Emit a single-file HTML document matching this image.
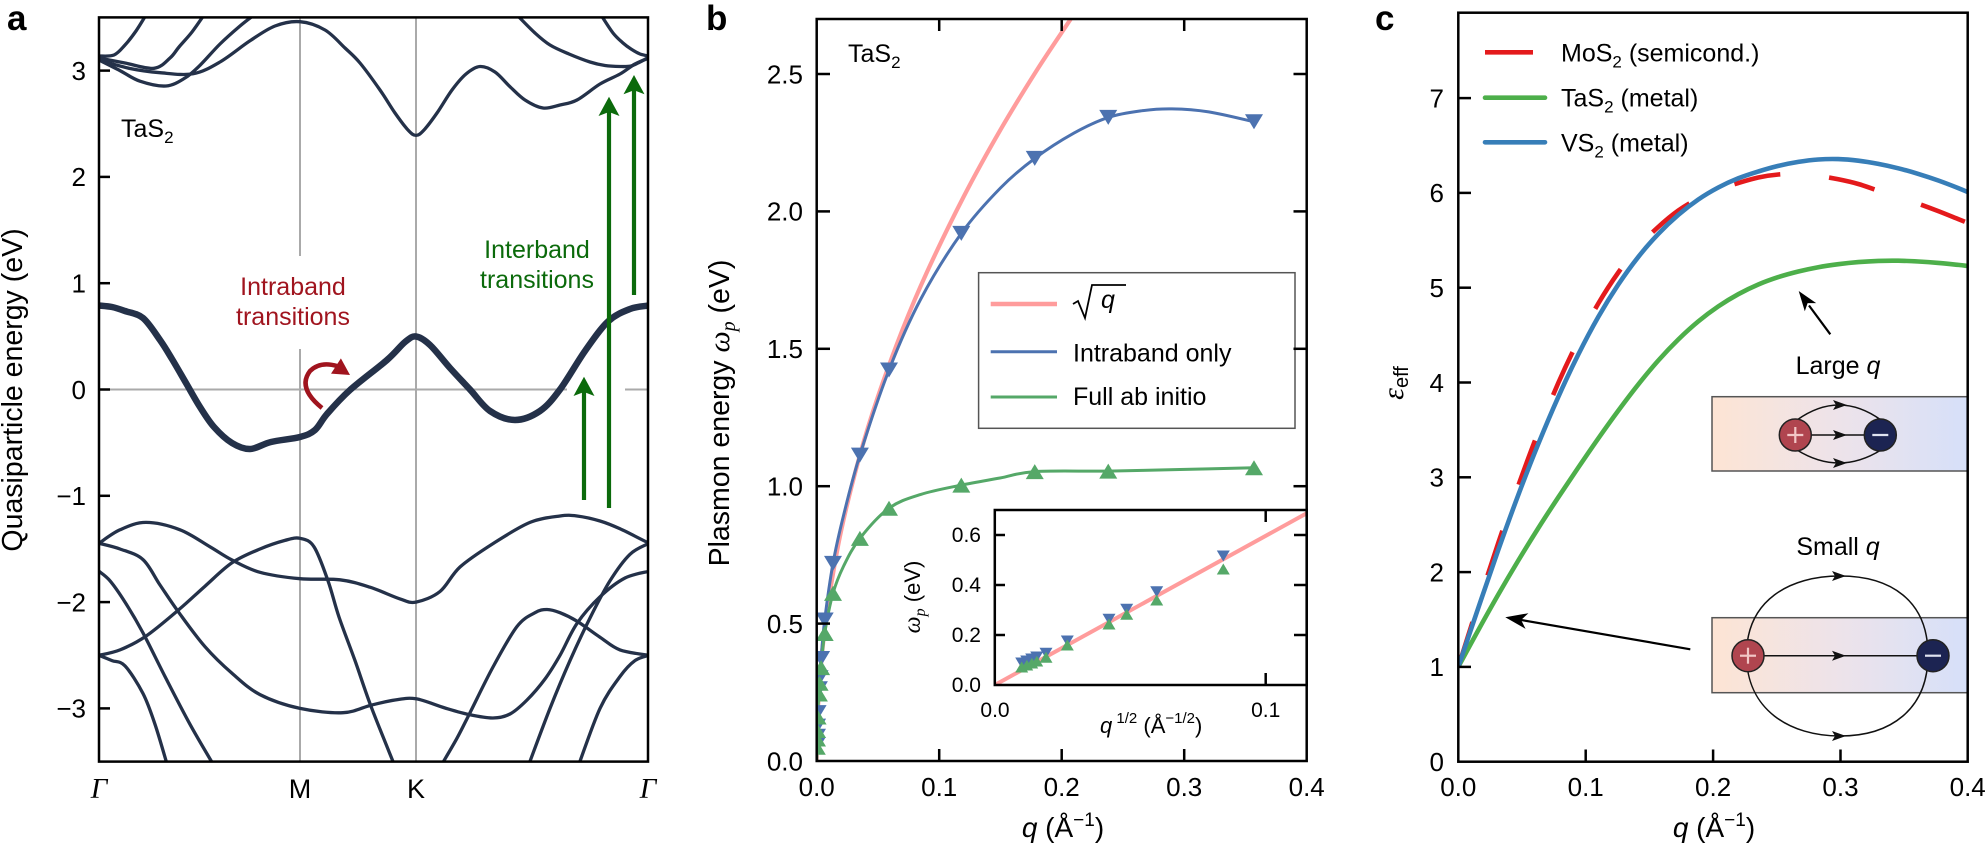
<!DOCTYPE html>
<html><head><meta charset="utf-8">
<style>
html,body{margin:0;padding:0;background:#fff;}
svg{display:block;}
text{font-family:"Liberation Sans",Arial,sans-serif;}
.ser{font-family:"Liberation Serif","DejaVu Serif",serif;font-style:italic;}
</style></head>
<body>
<svg width="1987" height="849" viewBox="0 0 1987 849" xmlns="http://www.w3.org/2000/svg">
<defs>
<clipPath id="cA"><rect x="99" y="17.4" width="549" height="744.2"/></clipPath>
<clipPath id="cB"><rect x="816.7" y="19" width="490" height="742"/></clipPath>
<clipPath id="cBi"><rect x="994.8" y="510" width="311.9" height="175"/></clipPath>
<clipPath id="cC"><rect x="1458.3" y="12.7" width="509.4" height="749"/></clipPath>
<linearGradient id="gr" x1="0" x2="1" y1="0" y2="0">
<stop offset="0" stop-color="#fde4d4"/><stop offset="0.5" stop-color="#ede3ea"/><stop offset="1" stop-color="#d6e0f9"/>
</linearGradient>
<path id="dn" d="M-9,-7.5 L9,-7.5 L0,7.5 Z" fill="#4c72b0"/>
<path id="up" d="M-9,7.5 L9,7.5 L0,-7.5 Z" fill="#55a868"/>
<path id="dns" d="M-6.5,-5.5 L6.5,-5.5 L0,5.5 Z" fill="#4c72b0"/>
<path id="ups" d="M-6.5,5.5 L6.5,5.5 L0,-5.5 Z" fill="#55a868"/>
</defs>
<rect width="1987" height="849" fill="#fff"/>

<!-- ================= PANEL A ================= -->
<text x="7" y="30" font-size="35" font-weight="bold">a</text>
<g stroke="#aaaaaa" stroke-width="2">
<line x1="300" y1="17.4" x2="300" y2="256"/>
<line x1="300" y1="349" x2="300" y2="761.6"/>
<line x1="416" y1="17.4" x2="416" y2="761.6"/>
<line x1="99" y1="389.5" x2="567" y2="389.5"/>
<line x1="625" y1="389.5" x2="648" y2="389.5"/>
</g>
<g clip-path="url(#cA)" fill="none" stroke="#243149" stroke-width="3.3" stroke-linejoin="round" stroke-linecap="round">
<polyline class="sm" points="99,60 130,68.5 160,72.7 193,73.8 220,62 250,40.8 275,26 300,21.7 325,30 345,48 360,63 380,90 395,113 408,130 416,135.4 424,130 437,113 452,90 466,74 480,66.5 495,72 510,86.7 525,100 543,108 560,105 577,100 600,84 620,74 635,64 649,58"/>
<polyline class="sm" points="99,60 120,70.6 140,81.2 166,86 185,78 200,65.3 220,44 240,26 254,15"/>
<polyline class="sm" points="99,58 125,63 154,68.3 170,58 179,47 192,32 204,15"/>
<polyline class="sm" points="99,56 114,55 125,45 136,31 146,15"/>
<polyline class="sm" points="517,15 535,33 550,45 569,54 590,62 605,65.5 620,66.5 631,66 640,62 649,57"/>
<polyline class="sm" points="601,15 613,33 623,43 631,49 640,54 649,56"/>
<polyline class="sm" points="99,543.3 120,529.8 146,522.4 180,529.8 210,546.8 232,560 260,572.3 300,578.7 340,579.8 370,587.2 400,598.9 416,602.1 440,591.5 460,567 493,543.6 530,522.4 560,516 577,516 600,521 620,528.8 649,543.3"/>
<polyline class="sm" points="99,543.3 120,549 143,559.6 160,585 179,612.7 205,646.7 232,673.3 260,694.6 300,708.4 343,712.7 371,705.2 395,700 416,698.8 445,708 470,714.8 493,718 510,714 527,700 545,679 560,655.3 577,623.4 600,596.8 625,578 649,571.3"/>
<polyline class="sm" points="99,571.3 110,580.8 125,602.1 143,632.9 165,676.5 190,724.3 213,764"/>
<polyline class="sm" points="99,655.3 120,649.9 146,636.1 179,609.5 205,586.2 232,562.8 260,549 285,540.4 300,538.3 314,546.8 328,580.8 339,617 355,660.6 371,706.3 394,764"/>
<polyline class="sm" points="99,655.3 112,660.6 125,665.9 143,693.5 155,724.3 167,764"/>
<polyline class="sm" points="442,764 457,738.2 470,712.7 493,667 517,626.5 535,612.7 547,609.5 560,612.7 577,621.2 600,637.2 620,649.9 649,655.3"/>
<polyline class="sm" points="529,764 550,708.4 570,660.6 590,618 610,580.8 630,554.3 649,543.3"/>
<polyline class="sm" points="579,764 600,708.4 620,676.5 635,660.6 649,655.3"/>
<polyline class="sm" stroke-width="6.5" points="99,305.5 112,307 125,311 143,318 160,340 172,359 186,383 200,407 214,427 232,443 250,449 271,442 300,437 315,430 327,414 350,390 387,360 405,342 416,336.5 430,345 450,368 470,389.5 490,411 515,420 540,411 560,389.5 585,351 608,321.5 630,309 649,305.5"/>
</g>
<rect x="99" y="17.4" width="549" height="744.2" fill="none" stroke="#000" stroke-width="2.5"/>
<g stroke="#000" stroke-width="2.5">
<line x1="99" y1="70.6" x2="110" y2="70.6"/>
<line x1="99" y1="176.9" x2="110" y2="176.9"/>
<line x1="99" y1="283.2" x2="110" y2="283.2"/>
<line x1="99" y1="389.5" x2="110" y2="389.5"/>
<line x1="99" y1="495.8" x2="110" y2="495.8"/>
<line x1="99" y1="602.1" x2="110" y2="602.1"/>
<line x1="99" y1="708.4" x2="110" y2="708.4"/>
</g>
<g font-size="26" text-anchor="end">
<text x="86" y="79.9">3</text>
<text x="86" y="186.2">2</text>
<text x="86" y="292.5">1</text>
<text x="86" y="398.8">0</text>
<text x="86" y="505.1">−1</text>
<text x="86" y="611.4">−2</text>
<text x="86" y="717.7">−3</text>
</g>
<g font-size="27" text-anchor="middle">
<text x="99" y="798" class="ser" font-size="29">Γ</text>
<text x="300" y="798">M</text>
<text x="416" y="798">K</text>
<text x="648" y="798" class="ser" font-size="29">Γ</text>
</g>
<text transform="translate(22,390) rotate(-90)" text-anchor="middle" font-size="28.5">Quasiparticle energy (eV)</text>
<text x="121" y="137" font-size="25">TaS<tspan font-size="17" dy="6">2</tspan></text>
<g font-size="25" text-anchor="middle" fill="#a0141e">
<text x="293" y="295" style="fill:#a0141e">Intraband</text>
<text x="293" y="325" style="fill:#a0141e">transitions</text>
</g>
<path d="M322,408 Q297,388 310,371 Q320,361 337,366" fill="none" stroke="#a0141e" stroke-width="4.5"/>
<polygon points="350,375 331,373.6 336,366 340.9,358.4" fill="#a0141e"/>
<g font-size="25" text-anchor="middle" fill="#0b6a0b">
<text x="537" y="258" style="fill:#0b6a0b">Interband</text>
<text x="537" y="288" style="fill:#0b6a0b">transitions</text>
</g>
<g stroke="#0b6a0b" stroke-width="4.2">
<line x1="584" y1="500" x2="584" y2="390"/>
<line x1="609" y1="508" x2="609" y2="110"/>
<line x1="634" y1="295" x2="634" y2="88"/>
</g>
<g fill="#0b6a0b">
<polygon points="584,376.7 573.5,396 584,392 594.5,396"/>
<polygon points="609,96.7 598.5,116 609,112 619.5,116"/>
<polygon points="634,75 623.5,94.3 634,90.3 644.5,94.3"/>
</g>

<!-- ================= PANEL B ================= -->
<text x="706" y="30" font-size="35" font-weight="bold">b</text>
<g clip-path="url(#cB)" fill="none" stroke-linejoin="round">
<polyline class="sm" stroke="#ff9c9c" stroke-width="4.2" points="816.7,761 817.3,724.6 819.2,688.2 822.8,645.9 829,598 841.2,530.4 859.6,456.2 877.95,396.6 902.45,329.8 926.95,272.1 963.7,196.6 1000.45,129.8 1037.2,69.6 1070.3,19.6 1076,10"/>
<polyline class="sm" stroke="#4c72b0" stroke-width="3" points="816.7,761 816.9,740 817.1,726.1 817.6,712.6 818.9,688.7 821.1,658.5 824.7,620 833,563.4 843.65,515 859.9,455.1 889,370 920.8,299 961.3,233.4 1000.45,188 1034.75,158.4 1073.95,133.1 1108.25,117.4 1141.3,110.8 1172,108.9 1208.7,111.9 1254,121.8"/>
<polyline class="sm" stroke="#55a868" stroke-width="3" points="816.7,761 816.9,742 817.1,730.5 817.6,717 818.9,694 821.1,667.6 824.7,633.5 833,593.4 843.65,566 859.9,538.4 889,508.2 920.8,494.4 961.3,485.1 1000,478 1034.75,471.6 1108.25,471.1 1180,469.5 1254,467.8"/>
<g>
<use href="#dn" transform="translate(816.8,744.5)"/>
<use href="#dn" transform="translate(817,736.3)"/>
<use href="#dn" transform="translate(817.1,726.1)"/>
<use href="#dn" transform="translate(817.6,712.6)"/>
<use href="#dn" transform="translate(818.9,688.7)"/>
<use href="#dn" transform="translate(819.6,677.7)"/>
<use href="#dn" transform="translate(821.1,658.5)"/>
<use href="#dn" transform="translate(824.7,620)"/>
<use href="#dn" transform="translate(833,563.4)"/>
<use href="#dn" transform="translate(859.9,455.1)"/>
<use href="#dn" transform="translate(889,370)"/>
<use href="#dn" transform="translate(961.3,233.4)"/>
<use href="#dn" transform="translate(1034.75,158.4)"/>
<use href="#dn" transform="translate(1108.25,117.4)"/>
<use href="#dn" transform="translate(1254,121.8)"/>
<use href="#up" transform="translate(816.8,747.3)"/>
<use href="#up" transform="translate(817,739)"/>
<use href="#up" transform="translate(817.1,730.5)"/>
<use href="#up" transform="translate(817.6,717)"/>
<use href="#up" transform="translate(818.9,694)"/>
<use href="#up" transform="translate(819.6,683.2)"/>
<use href="#up" transform="translate(821.1,667.6)"/>
<use href="#up" transform="translate(824.7,633.5)"/>
<use href="#up" transform="translate(833,593.4)"/>
<use href="#up" transform="translate(859.9,538.4)"/>
<use href="#up" transform="translate(889,508.2)"/>
<use href="#up" transform="translate(961.3,485.1)"/>
<use href="#up" transform="translate(1034.75,471.6)"/>
<use href="#up" transform="translate(1108.25,471.1)"/>
<use href="#up" transform="translate(1254,467.8)"/>
</g>
</g>
<rect x="978.6" y="272.7" width="316.4" height="155.6" fill="#fff" stroke="#555" stroke-width="1.5"/>
<line x1="990.7" y1="304" x2="1057" y2="304" stroke="#ff9c9c" stroke-width="4.5"/>
<line x1="990.7" y1="351.7" x2="1057" y2="351.7" stroke="#4c72b0" stroke-width="3"/>
<line x1="990.7" y1="397" x2="1057" y2="397" stroke="#55a868" stroke-width="3"/>
<polyline points="1073,304 1078,301 1085,318 1092,285 1126,285" fill="none" stroke="#000" stroke-width="1.8"/>
<text x="1101" y="308" font-size="25" font-style="italic">q</text>
<text x="1073" y="361.7" font-size="25">Intraband only</text>
<text x="1073" y="405" font-size="25">Full ab initio</text>
<text x="848" y="62" font-size="25">TaS<tspan font-size="17" dy="6">2</tspan></text>

<rect x="994.8" y="510" width="311.9" height="175" fill="#fff"/>
<g clip-path="url(#cBi)">
<line x1="994.8" y1="685" x2="1306.7" y2="513.3" stroke="#ff9c9c" stroke-width="4"/>
<use href="#dns" transform="translate(1223.3,556)"/><use href="#ups" transform="translate(1223.3,569)"/>
<use href="#dns" transform="translate(1156.7,591.7)"/><use href="#ups" transform="translate(1156.7,600)"/>
<use href="#dns" transform="translate(1126.7,609.3)"/><use href="#ups" transform="translate(1126.7,614.3)"/>
<use href="#dns" transform="translate(1109,619.3)"/><use href="#ups" transform="translate(1109,624)"/>
<use href="#dns" transform="translate(1067.3,641)"/><use href="#ups" transform="translate(1067.3,645)"/>
<use href="#dns" transform="translate(1046,653.3)"/><use href="#ups" transform="translate(1046,657.3)"/>
<use href="#dns" transform="translate(1036.7,657)"/><use href="#ups" transform="translate(1036.7,661)"/>
<use href="#dns" transform="translate(1031.7,659)"/><use href="#ups" transform="translate(1031.7,663)"/>
<use href="#dns" transform="translate(1026.7,661)"/><use href="#ups" transform="translate(1026.7,665)"/>
<use href="#dns" transform="translate(1021.7,663)"/><use href="#ups" transform="translate(1021.7,667)"/>
</g>
<rect x="994.8" y="510" width="311.9" height="175" fill="none" stroke="#000" stroke-width="2.5"/>
<g stroke="#000" stroke-width="2.5">
<line x1="994.8" y1="635" x2="1005" y2="635"/>
<line x1="994.8" y1="585" x2="1005" y2="585"/>
<line x1="994.8" y1="535" x2="1005" y2="535"/>
<line x1="1294" y1="635" x2="1306.7" y2="635"/>
<line x1="1294" y1="585" x2="1306.7" y2="585"/>
<line x1="1294" y1="535" x2="1306.7" y2="535"/>
<line x1="1265.7" y1="510" x2="1265.7" y2="522"/>
<line x1="1265.7" y1="685" x2="1265.7" y2="673"/>
</g>
<g font-size="21" text-anchor="end">
<text x="981" y="692">0.0</text>
<text x="981" y="642">0.2</text>
<text x="981" y="592">0.4</text>
<text x="981" y="542">0.6</text>
</g>
<g font-size="21" text-anchor="middle">
<text x="995" y="717">0.0</text>
<text x="1265.7" y="717">0.1</text>
</g>
<text transform="translate(920,597) rotate(-90)" text-anchor="middle" font-size="22"><tspan class="ser" font-size="24">ω</tspan><tspan class="ser" font-size="16" dy="5">p</tspan><tspan dy="-5"> (eV)</tspan></text>
<text x="1100" y="733" font-size="22"><tspan font-style="italic">q</tspan><tspan font-size="15" dy="-10"> 1/2</tspan><tspan dy="10"> (Å</tspan><tspan font-size="15" dy="-10">−1/2</tspan><tspan dy="10">)</tspan></text>

<rect x="816.7" y="19" width="490" height="742" fill="none" stroke="#000" stroke-width="2.5"/>
<g stroke="#000" stroke-width="2.5">
<line x1="816.7" y1="623.6" x2="830" y2="623.6"/>
<line x1="816.7" y1="486.2" x2="830" y2="486.2"/>
<line x1="816.7" y1="348.8" x2="830" y2="348.8"/>
<line x1="816.7" y1="211.4" x2="830" y2="211.4"/>
<line x1="816.7" y1="74" x2="830" y2="74"/>
<line x1="1293.5" y1="486.2" x2="1306.7" y2="486.2"/>
<line x1="1293.5" y1="348.8" x2="1306.7" y2="348.8"/>
<line x1="1293.5" y1="211.4" x2="1306.7" y2="211.4"/>
<line x1="1293.5" y1="74" x2="1306.7" y2="74"/>
<line x1="939.2" y1="19" x2="939.2" y2="31"/>
<line x1="1061.7" y1="19" x2="1061.7" y2="31"/>
<line x1="1184.2" y1="19" x2="1184.2" y2="31"/>
<line x1="939.2" y1="761" x2="939.2" y2="749"/>
<line x1="1061.7" y1="761" x2="1061.7" y2="749"/>
<line x1="1184.2" y1="761" x2="1184.2" y2="749"/>
</g>
<g font-size="26" text-anchor="end">
<text x="803" y="770.3">0.0</text>
<text x="803" y="632.9">0.5</text>
<text x="803" y="495.5">1.0</text>
<text x="803" y="358.1">1.5</text>
<text x="803" y="220.7">2.0</text>
<text x="803" y="83.3">2.5</text>
</g>
<g font-size="26" text-anchor="middle">
<text x="816.7" y="796">0.0</text>
<text x="939.2" y="796">0.1</text>
<text x="1061.7" y="796">0.2</text>
<text x="1184.2" y="796">0.3</text>
<text x="1306.7" y="796">0.4</text>
</g>
<text transform="translate(729,413) rotate(-90)" text-anchor="middle" font-size="28.5">Plasmon energy <tspan class="ser" font-size="30">ω</tspan><tspan class="ser" font-size="20" dy="6">p</tspan><tspan dy="-6"> (eV)</tspan></text>
<text x="1063" y="837" text-anchor="middle" font-size="28"><tspan font-style="italic">q</tspan> (Å<tspan font-size="19" dy="-11">−1</tspan><tspan dy="11">)</tspan></text>

<!-- ================= PANEL C ================= -->
<text x="1375" y="30" font-size="35" font-weight="bold">c</text>
<g clip-path="url(#cC)" fill="none" stroke-linejoin="round">
<polyline class="sm" stroke="#e41a1c" stroke-width="4.6" stroke-dasharray="47 49" points="1458.3,666.9 1478.3,603.9 1498.3,542.9 1518.3,485.5 1538.3,431.9 1558.3,382.9 1578.3,340.5 1598.3,303.5 1618.3,272.5 1638.3,246.9 1658.3,226.9 1678.3,210.5 1698.3,198.5 1718.3,189.7 1738.3,183 1758.3,177.5 1778.3,174.5 1798.3,174.1 1818.3,175.9 1838.3,179.3 1858.3,184 1878.3,190.7 1898.3,196.9 1918.3,203.7 1938.3,211.1 1958.3,219.1 1968,223"/>
<polyline class="sm" stroke="#4daf4a" stroke-width="4.6" points="1458.3,666.9 1478.3,630.1 1498.3,594.5 1518.3,560.5 1538.3,528.1 1558.3,497.3 1578.3,467.5 1598.3,438.4 1618.3,410.6 1638.3,384.4 1658.3,360.5 1678.3,339.5 1698.3,321.4 1718.3,306.4 1738.3,294.2 1758.3,284.5 1778.3,277.1 1798.3,271.5 1818.3,267.2 1838.3,264.2 1858.3,262.1 1878.3,260.9 1898.3,260.7 1918.3,261.5 1938.3,262.9 1958.3,264.9 1968,266"/>
<polyline class="sm" stroke="#377eb8" stroke-width="4.6" points="1458.3,666.9 1478.3,607.9 1498.3,549.9 1518.3,494.9 1538.3,443.9 1558.3,396.9 1578.3,354.5 1598.3,316.9 1618.3,284.5 1638.3,256.9 1658.3,233.9 1678.3,214.9 1698.3,199.5 1718.3,187.5 1738.3,178.3 1758.3,171.5 1778.3,165.9 1798.3,161.9 1818.3,159.5 1838.3,159.1 1858.3,160.7 1878.3,163.9 1898.3,168.3 1918.3,173.9 1938.3,180.5 1958.3,188.1 1968,192.2"/>
</g>
<line x1="1485" y1="52.3" x2="1533" y2="52.3" stroke="#e41a1c" stroke-width="4.6"/>
<line x1="1485" y1="97.7" x2="1545" y2="97.7" stroke="#4daf4a" stroke-width="4.6" stroke-linecap="round"/>
<line x1="1485" y1="142.3" x2="1545" y2="142.3" stroke="#377eb8" stroke-width="4.6" stroke-linecap="round"/>
<text x="1561" y="61.7" font-size="25">MoS<tspan font-size="17" dy="6">2</tspan><tspan dy="-6"> (semicond.)</tspan></text>
<text x="1561" y="106.7" font-size="25">TaS<tspan font-size="17" dy="6">2</tspan><tspan dy="-6"> (metal)</tspan></text>
<text x="1561" y="151.7" font-size="25">VS<tspan font-size="17" dy="6">2</tspan><tspan dy="-6"> (metal)</tspan></text>

<text x="1838" y="374" text-anchor="middle" font-size="25">Large <tspan font-style="italic">q</tspan></text>
<line x1="1830.3" y1="334.3" x2="1809" y2="305.5" stroke="#000" stroke-width="2.2"/>
<polygon points="1798.7,291 1816.2,303.1 1807.6,303.1 1804.8,311.3" fill="#000"/>
<rect x="1712" y="396.7" width="255.7" height="74.3" fill="url(#gr)" stroke="#555" stroke-width="1.5"/>
<g fill="none" stroke="#111" stroke-width="1.5">
<path d="M1797,420 Q1839,390 1881,420"/>
<path d="M1797,450 Q1839,476 1881,450"/>
<line x1="1811" y1="435" x2="1864" y2="435"/>
</g>
<g fill="#111">
<polygon points="1847,405 1833,400 1836,405 1833,410"/>
<polygon points="1847,463 1833,458 1836,463 1833,468"/>
<polygon points="1847,435 1833,430 1836,435 1833,440"/>
</g>
<circle cx="1795.3" cy="435" r="16" fill="#b0454f" stroke="#222" stroke-width="1.5"/>
<circle cx="1880.3" cy="435" r="16" fill="#1c2452" stroke="#222" stroke-width="1.5"/>
<g stroke="#f2c6c6" stroke-width="2.2"><line x1="1787.3" y1="435" x2="1803.3" y2="435"/><line x1="1795.3" y1="427" x2="1795.3" y2="443"/></g>
<line x1="1872.3" y1="435" x2="1888.3" y2="435" stroke="#dfe3f0" stroke-width="2.2"/>

<text x="1838" y="555" text-anchor="middle" font-size="25">Small <tspan font-style="italic">q</tspan></text>
<line x1="1690.3" y1="649.3" x2="1520" y2="619.8" stroke="#000" stroke-width="2.2"/>
<polygon points="1505.3,617.3 1528.4,613.2 1521.1,620 1525.6,628.9" fill="#000"/>
<rect x="1712" y="617.7" width="255.7" height="75" fill="url(#gr)" stroke="#555" stroke-width="1.5"/>
<path d="M1746.5,655 C1746.5,600 1790,576 1840,576 C1890,576 1928,600 1928,655 C1928,710 1890,736 1840,736 C1790,736 1746.5,710 1746.5,655 Z" fill="none" stroke="#111" stroke-width="1.5"/>
<line x1="1764" y1="655.7" x2="1917" y2="655.7" stroke="#111" stroke-width="1.5"/>
<g fill="#111">
<polygon points="1846,576 1832,571 1835,576 1832,581"/>
<polygon points="1846,736 1832,731 1835,736 1832,741"/>
<polygon points="1846,655.7 1832,650.7 1835,655.7 1832,660.7"/>
</g>
<circle cx="1748" cy="655.7" r="16" fill="#b0454f" stroke="#222" stroke-width="1.5"/>
<circle cx="1933" cy="655.7" r="16" fill="#1c2452" stroke="#222" stroke-width="1.5"/>
<g stroke="#f2c6c6" stroke-width="2.2"><line x1="1740" y1="655.7" x2="1756" y2="655.7"/><line x1="1748" y1="647.7" x2="1748" y2="663.7"/></g>
<line x1="1925" y1="655.7" x2="1941" y2="655.7" stroke="#dfe3f0" stroke-width="2.2"/>

<rect x="1458.3" y="12.7" width="509.4" height="749" fill="none" stroke="#000" stroke-width="2.5"/>
<g stroke="#000" stroke-width="2.5">
<line x1="1458.3" y1="666.9" x2="1471" y2="666.9"/>
<line x1="1458.3" y1="572.1" x2="1471" y2="572.1"/>
<line x1="1458.3" y1="477.3" x2="1471" y2="477.3"/>
<line x1="1458.3" y1="382.5" x2="1471" y2="382.5"/>
<line x1="1458.3" y1="287.7" x2="1471" y2="287.7"/>
<line x1="1458.3" y1="192.9" x2="1471" y2="192.9"/>
<line x1="1458.3" y1="98.1" x2="1471" y2="98.1"/>
<line x1="1585.7" y1="761.7" x2="1585.7" y2="749.5"/>
<line x1="1713.1" y1="761.7" x2="1713.1" y2="749.5"/>
<line x1="1840.5" y1="761.7" x2="1840.5" y2="749.5"/>
</g>
<g font-size="26" text-anchor="end">
<text x="1444" y="771">0</text>
<text x="1444" y="676.2">1</text>
<text x="1444" y="581.4">2</text>
<text x="1444" y="486.6">3</text>
<text x="1444" y="391.8">4</text>
<text x="1444" y="297">5</text>
<text x="1444" y="202.2">6</text>
<text x="1444" y="107.4">7</text>
</g>
<g font-size="26" text-anchor="middle">
<text x="1458.3" y="796">0.0</text>
<text x="1585.7" y="796">0.1</text>
<text x="1713.1" y="796">0.2</text>
<text x="1840.5" y="796">0.3</text>
<text x="1967.7" y="796">0.4</text>
</g>
<text transform="translate(1403,383) rotate(-90)" text-anchor="middle"><tspan class="ser" font-size="30">ε</tspan><tspan font-size="20" dy="5">eff</tspan></text>
<text x="1714" y="837" text-anchor="middle" font-size="28"><tspan font-style="italic">q</tspan> (Å<tspan font-size="19" dy="-11">−1</tspan><tspan dy="11">)</tspan></text>
</svg>
<script>
(function(){
var pls=document.querySelectorAll('polyline.sm');
for(var k=0;k<pls.length;k++){
 var pl=pls[k];
 var pts=pl.getAttribute('points').trim().split(/\s+/).map(function(s){var a=s.split(',');return [+a[0],+a[1]];});
 var d='M'+pts[0][0]+','+pts[0][1];
 for(var i=0;i<pts.length-1;i++){
  var p0=pts[i-1]||pts[i],p1=pts[i],p2=pts[i+1],p3=pts[i+2]||p2;
  var c1x=p1[0]+(p2[0]-p0[0])/6,c1y=p1[1]+(p2[1]-p0[1])/6;
  var c2x=p2[0]-(p3[0]-p1[0])/6,c2y=p2[1]-(p3[1]-p1[1])/6;
  d+=' C'+c1x.toFixed(2)+','+c1y.toFixed(2)+' '+c2x.toFixed(2)+','+c2y.toFixed(2)+' '+p2[0]+','+p2[1];
 }
 var path=document.createElementNS('http://www.w3.org/2000/svg','path');
 for(var j=0;j<pl.attributes.length;j++){var at=pl.attributes[j];if(at.name!=='points'&&at.name!=='class')path.setAttribute(at.name,at.value);}
 path.setAttribute('d',d);
 pl.parentNode.replaceChild(path,pl);
}
})();
</script>
</body></html>
